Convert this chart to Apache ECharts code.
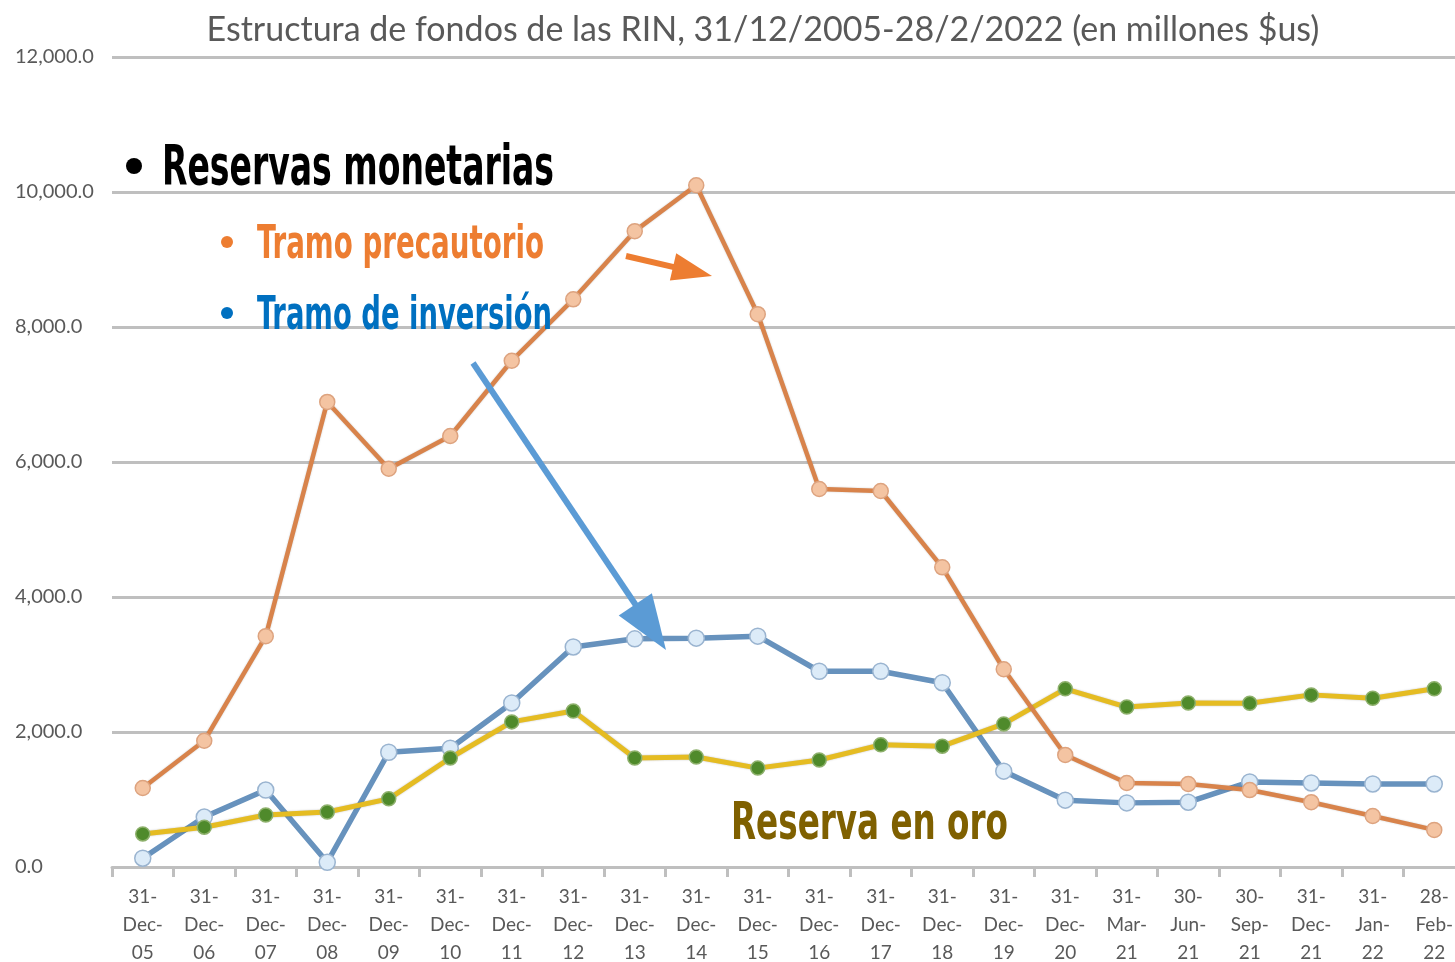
<!DOCTYPE html>
<html>
<head>
<meta charset="utf-8">
<script src="https://cdn.jsdelivr.net/npm/echarts@6/dist/echarts.min.js"></script>
<style>
  html, body { margin: 0; padding: 0; background: #fff; }
  #chart { width: 1455px; height: 962px; }
</style>
</head>
<body>
<div id="chart"></div>
<script>
// categories (fechas de corte)
const fechas = [
  '31-Dec-05', '31-Dec-06', '31-Dec-07', '31-Dec-08', '31-Dec-09', '31-Dec-10',
  '31-Dec-11', '31-Dec-12', '31-Dec-13', '31-Dec-14', '31-Dec-15', '31-Dec-16',
  '31-Dec-17', '31-Dec-18', '31-Dec-19', '31-Dec-20', '31-Mar-21', '30-Jun-21',
  '30-Sep-21', '31-Dec-21', '31-Jan-22', '28-Feb-22'
];

// millones $us
const tramoPrecautorio = [
  1170, 1870, 3420, 6890, 5900, 6385, 7500, 8410, 9420, 10100, 8190, 5600,
  5570, 4440, 2930, 1660, 1245, 1230, 1140, 960, 755, 550
];
const tramoInversion = [
  130, 740, 1140, 70, 1700, 1760, 2430, 3260, 3380, 3390, 3420, 2900,
  2900, 2730, 1420, 990, 950, 960, 1260, 1245, 1230, 1230
];
const reservaOro = [
  490, 590, 770, 815, 1010, 1615, 2150, 2310, 1615, 1630, 1465, 1585,
  1810, 1790, 2120, 2640, 2370, 2430, 2425, 2550, 2500, 2640
];

const yTicks = { min: 0, max: 12000, interval: 2000 };

const chart = echarts.init(document.getElementById('chart'));

// condensed headline text, squeezed to the width seen in the slide
const measureCtx = document.createElement('canvas').getContext('2d');
function squeezeText(text, x, y, size, color, targetWidth) {
  const font = 'bold ' + size + 'px "DejaVu Sans Condensed", "DejaVu Sans", sans-serif';
  measureCtx.font = font;
  const w = measureCtx.measureText(text).width;
  return {
    type: 'text', x: x, y: y, scaleX: targetWidth / w, z: 10,
    style: { text: text, font: font, fill: color, textAlign: 'left', textVerticalAlign: 'middle' }
  };
}

function bullet(x, y, r, color) {
  return { type: 'circle', shape: { cx: x, cy: y, r: r }, style: { fill: color }, z: 10 };
}

function arrow(x1, y1, x2, y2, color, width, headLen, headHalf) {
  const dx = x2 - x1, dy = y2 - y1;
  const len = Math.sqrt(dx * dx + dy * dy);
  const ux = dx / len, uy = dy / len;
  const bx = x2 - ux * headLen, by = y2 - uy * headLen;
  return [
    { type: 'line', z: 10, shape: { x1: x1, y1: y1, x2: bx + ux * 2, y2: by + uy * 2 },
      style: { stroke: color, lineWidth: width } },
    { type: 'polygon', z: 10,
      shape: { points: [[x2, y2], [bx - uy * headHalf, by + ux * headHalf], [bx + uy * headHalf, by - ux * headHalf]] },
      style: { fill: color } }
  ];
}

chart.setOption({
  backgroundColor: '#fff',
  animation: false,
  title: {
    text: 'Estructura de fondos de las RIN, 31/12/2005-28/2/2022 (en millones $us)',
    left: 758, top: 8, textAlign: 'center',
    textStyle: { fontFamily: 'Lato', fontWeight: 'normal', fontSize: 34, color: '#595959' }
  },
  grid: { left: 112, top: 57, width: 1353, height: 810, outerBoundsMode: 'none', containLabel: false },
  xAxis: {
    type: 'category', data: fechas, boundaryGap: true,
    axisLine: { lineStyle: { color: '#BFBFBF', width: 3 } },
    axisTick: { show: true, length: 10, lineStyle: { color: '#BFBFBF', width: 3 } },
    axisLabel: {
      interval: 0, margin: 16, color: '#595959', fontFamily: 'Lato', fontSize: 19, lineHeight: 28,
      formatter: v => v.split('-').map((p, i, a) => i < a.length - 1 ? p + '-' : p).join('\n')
    }
  },
  yAxis: {
    type: 'value', min: yTicks.min, max: yTicks.max, interval: yTicks.interval,
    axisLine: { show: false }, axisTick: { show: false },
    axisLabel: {
      align: 'left', margin: 97, color: '#595959', fontFamily: 'Lato', fontSize: 20,
      formatter: v => v.toLocaleString('en-US', { minimumFractionDigits: 1, maximumFractionDigits: 1 })
    },
    splitLine: { lineStyle: { color: '#BFBFBF', width: 3 } }
  },
  series: [
    {
      name: 'Reserva en oro', type: 'line', data: reservaOro, z: 3,
      symbol: 'circle', symbolSize: 14,
      lineStyle: { color: '#E5BC22', width: 5, shadowColor: 'rgba(0,0,0,0.25)', shadowBlur: 2 },
      itemStyle: { color: '#4F8A2B', borderColor: '#8DB06B', borderWidth: 1.5 }
    },
    {
      name: 'Tramo de inversión', type: 'line', data: tramoInversion, z: 2,
      symbol: 'circle', symbolSize: 16,
      lineStyle: { color: '#6792BD', width: 5.5 },
      itemStyle: { color: '#DCEBF8', borderColor: '#9AB4D0', borderWidth: 1.5 }
    },
    {
      name: 'Tramo precautorio', type: 'line', data: tramoPrecautorio, z: 4,
      symbol: 'circle', symbolSize: 15,
      lineStyle: { color: '#D8834B', width: 4.5, shadowColor: 'rgba(0,0,0,0.2)', shadowBlur: 2 },
      itemStyle: { color: '#F4C4A2', borderColor: '#DDA37F', borderWidth: 1.5 }
    }
  ],
  graphic: [
    bullet(134, 166, 8, '#000'),
    squeezeText('Reservas monetarias', 162, 169, 56, '#000', 392),
    bullet(227, 242, 6, '#ED7D31'),
    squeezeText('Tramo precautorio', 257, 246, 47, '#ED7D31', 287),
    bullet(227, 313, 6, '#0070C0'),
    squeezeText('Tramo de inversión', 257, 317, 47, '#0070C0', 295),
    squeezeText('Reserva en oro', 731, 825, 52, '#7F6000', 277),
    ...arrow(626, 256, 712, 276, '#ED7D31', 6, 40, 14),
    ...arrow(473, 363, 666, 650, '#5B9BD5', 6, 55, 20)
  ]
});

window.addEventListener('resize', () => chart.resize());
</script>
</body>
</html>
